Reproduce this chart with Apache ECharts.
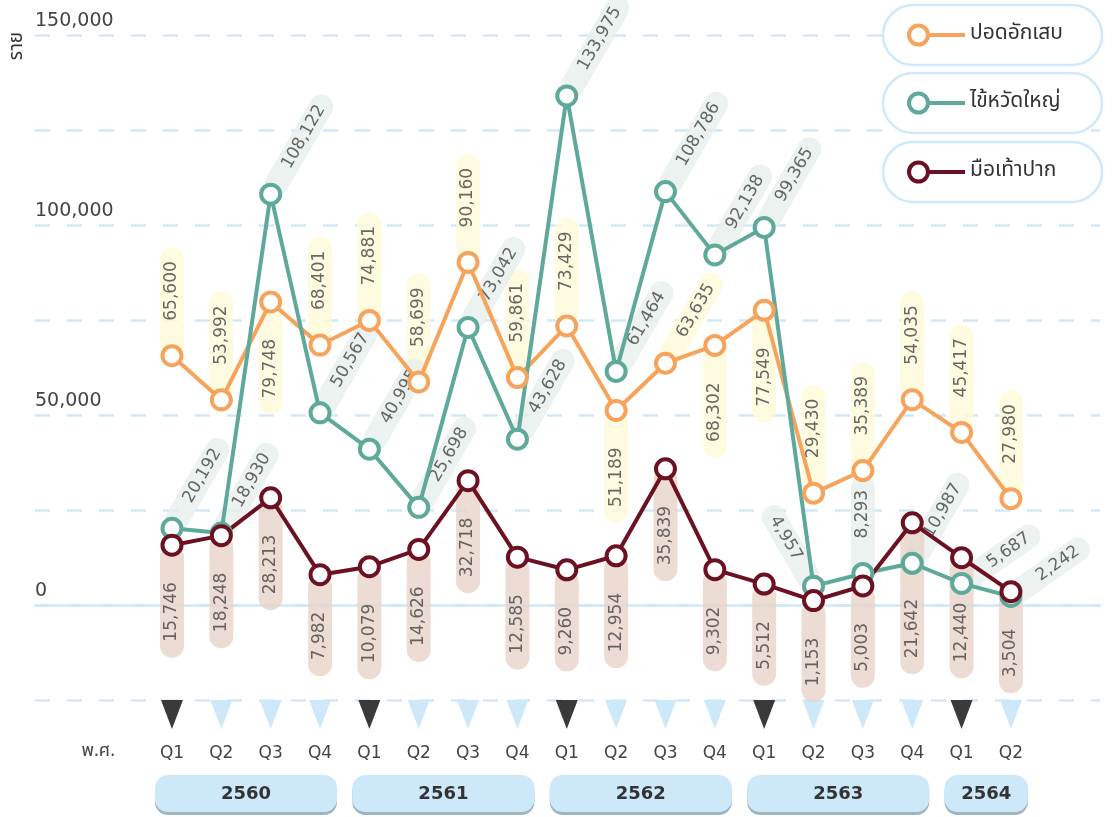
<!DOCTYPE html>
<html>
<head>
<meta charset="utf-8">
<title>ผู้ป่วยรายไตรมาส</title>
<style>
  html, body { margin: 0; padding: 0; background: #fff; }
  #main { width: 1113px; height: 817px; }
</style>
<script src="https://cdn.jsdelivr.net/npm/echarts@6/dist/echarts.min.js"></script>
</head>
<body>
<div id="main"></div>
<script>
// ---- ข้อมูล ----
const quarters = ['Q1', 'Q2', 'Q3', 'Q4', 'Q1', 'Q2', 'Q3', 'Q4', 'Q1', 'Q2', 'Q3', 'Q4', 'Q1', 'Q2', 'Q3', 'Q4', 'Q1', 'Q2'];
const yearLabels = ['2560', '2561', '2562', '2563', '2564'];
const yearQuarterCount = [4, 4, 4, 4, 2];

const pneumonia = [65600, 53992, 79748, 68401, 74881, 58699, 90160, 59861, 73429, 51189, 63635, 68302, 77549, 29430, 35389, 54035, 45417, 27980];
const influenza = [20192, 18930, 108122, 50567, 40995, 25698, 73042, 43628, 133975, 61464, 108786, 92138, 99365, 4957, 8293, 10987, 5687, 2242];
const hfmd = [15746, 18248, 28213, 7982, 10079, 14626, 32718, 12585, 9260, 12954, 35839, 9302, 5512, 1153, 5003, 21642, 12440, 3504];

const yMin = -25000, yMax = 150000, yStep = 25000;

// ---- สไตล์ ----
const FONT = "'DejaVu Sans', sans-serif";
const THAI_FONT = "'Noto Sans Thai', 'Noto Sans', 'DejaVu Sans', sans-serif";
const C_ORANGE = '#f6a35c', C_TEAL = '#5fa99a', C_RED = '#6b1121';
const GRID_LINE = '#cfe9f8';

// ตำแหน่งป้ายกำกับ (up / down / deep / diag / shallow / left)
const pneumoniaSide = i => ([2, 9, 11, 12].includes(i) ? 'down' : i === 10 ? 'diag' : 'up');
const influenzaSide = i => (i === 13 ? 'left' : i === 14 ? 'up' : i >= 16 ? 'shallow' : 'diag');
const hfmdSide = i => (i === 15 ? 'deep' : i === 16 ? 'lower' : 'down');

function pillLabel(bg, side) {
  const lbl = {
    show: true,
    position: 'inside',
    fontFamily: FONT,
    fontSize: 17,
    lineHeight: 18,
    color: '#424242',
    backgroundColor: bg,
    borderRadius: 12,
    verticalAlign: 'middle',
    formatter: p => Number(p.value).toLocaleString('en-US')
  };
  if (side === 'up') Object.assign(lbl, { rotate: 90, align: 'left', padding: [3, 14, 3, 35] });
  if (side === 'down') Object.assign(lbl, { rotate: 90, align: 'right', padding: [3, 37, 3, 16] });
  if (side === 'lower') Object.assign(lbl, { rotate: 90, align: 'right', padding: [3, 45, 3, 16] });
  if (side === 'deep') Object.assign(lbl, { rotate: 90, align: 'right', padding: [3, 76, 3, 16] });
  if (side === 'diag') Object.assign(lbl, { rotate: 60, align: 'left', padding: [3, 12, 3, 31] });
  if (side === 'shallow') Object.assign(lbl, { rotate: 35, align: 'left', padding: [3, 12, 3, 33] });
  if (side === 'left') Object.assign(lbl, { rotate: -60, align: 'right', padding: [3, 31, 3, 12] });
  return lbl;
}

function lineSeries(name, values, color) {
  return {
    name: name,
    type: 'line',
    xAxisIndex: 1,
    yAxisIndex: 1,
    z: 3,
    data: values,
    symbol: 'circle',
    symbolSize: 19,
    itemStyle: { color: '#fff', borderColor: color, borderWidth: 4 },
    lineStyle: { color: color, width: 4 },
    emphasis: { disabled: true },
    label: { show: false }
  };
}

function labelSeries(name, values, bg, sideOf) {
  return {
    name: name,
    type: 'scatter',
    xAxisIndex: 1,
    yAxisIndex: 1,
    z: 1,
    symbolSize: 1,
    itemStyle: { color: 'transparent' },
    emphasis: { disabled: true },
    data: values.map((v, i) => ({ value: v, label: pillLabel(bg, sideOf(i)) }))
  };
}

// ช่วงของแต่ละปี (index เริ่ม-จบ)
const yearRanges = [];
yearQuarterCount.reduce((start, n) => { yearRanges.push([start, start + n - 1]); return start + n; }, 0);

const ringIcon = 'path://M0,11.5A11.5,11.5,0,1,1,23,11.5A11.5,11.5,0,1,1,0,11.5ZM4,11.5A7.5,7.5,0,1,0,19,11.5A7.5,7.5,0,1,0,4,11.5ZM22,9.5L58,9.5L58,13.5L22,13.5Z';

const legendDefs = [
  { name: 'ปอดอักเสบ', color: C_ORANGE },
  { name: 'ไข้หวัดใหญ่', color: C_TEAL },
  { name: 'มือเท้าปาก', color: C_RED }
];

const chart = echarts.init(document.getElementById('main'));
chart.setOption({
  animation: false,
  backgroundColor: '#fff',
  textStyle: { fontFamily: FONT },
  grid: [
    { left: 35, right: 13, top: 35, bottom: 117 },
    { left: 147.3, right: 77.4, top: 35, bottom: 117 }
  ],
  xAxis: [
    {
      gridIndex: 0, type: 'value', min: 0, max: 1,
      axisLine: { show: true, onZero: true, lineStyle: { color: GRID_LINE, width: 2.5 } },
      axisTick: { show: false }, axisLabel: { show: false }, splitLine: { show: false }
    },
    {
      gridIndex: 1, type: 'category', data: quarters, boundaryGap: true,
      axisLine: { show: false, onZero: false }, axisTick: { show: false },
      axisLabel: { margin: 45, fontSize: 17, color: '#444', fontFamily: FONT }
    }
  ],
  yAxis: [
    {
      gridIndex: 0, type: 'value', min: yMin, max: yMax, interval: yStep,
      axisLine: { show: false }, axisTick: { show: false },
      splitLine: { show: true, lineStyle: { color: GRID_LINE, width: 2.5, type: [15, 17] } },
      axisLabel: {
        inside: true, margin: 0, align: 'left', verticalAlign: 'bottom', padding: [0, 0, 4, 0],
        fontSize: 19, color: '#444', fontFamily: FONT,
        formatter: v => (v >= 0 && v % 50000 === 0 ? v.toLocaleString('en-US') : '')
      }
    },
    { gridIndex: 1, type: 'value', min: yMin, max: yMax, interval: yStep, show: false }
  ],
  legend: legendDefs.map((d, k) => ({
    data: [{ name: d.name, icon: ringIcon, itemStyle: { color: d.color, borderWidth: 0 } }],
    left: 883, top: [5, 73, 142][k],
    itemWidth: 58, itemHeight: 23, itemGap: 0,
    backgroundColor: '#fff', borderColor: GRID_LINE, borderWidth: 2.5, borderRadius: 30,
    padding: [18, 27, 18, 24],
    selectedMode: false,
    textStyle: { fontSize: 21, lineHeight: 24, width: 105, color: '#333', fontFamily: THAI_FONT }
  })),
  graphic: [
    {
      type: 'text', x: 18, y: 46, rotation: Math.PI / 2,
      style: { text: 'ราย', font: '19px ' + THAI_FONT, fill: '#333', align: 'center', verticalAlign: 'middle' }
    },
    {
      type: 'text', x: 115, y: 752,
      style: { text: 'พ.ศ.', font: '18px ' + THAI_FONT, fill: '#444', align: 'right', verticalAlign: 'middle' }
    }
  ],
  series: [
    labelSeries('lbl-pneumonia', pneumonia, '#fefad8', pneumoniaSide),
    labelSeries('lbl-influenza', influenza, '#e6efec', influenzaSide),
    labelSeries('lbl-hfmd', hfmd, '#e9d3c9', hfmdSide),
    lineSeries('ปอดอักเสบ', pneumonia, C_ORANGE),
    lineSeries('ไข้หวัดใหญ่', influenza, C_TEAL),
    lineSeries('มือเท้าปาก', hfmd, C_RED),
    {
      // สามเหลี่ยมใต้แกน: ไตรมาสแรกของปีเป็นสีเข้ม
      type: 'custom', xAxisIndex: 1, yAxisIndex: 1, z: 1, silent: true,
      data: quarters.map((q, i) => [i, yMin]),
      renderItem: (params, api) => {
        const p = api.coord([api.value(0), api.value(1)]);
        const dark = quarters[params.dataIndex] === 'Q1';
        return {
          type: 'polygon',
          shape: { points: [[p[0] - 11, p[1]], [p[0] + 11, p[1]], [p[0], p[1] + 29]] },
          style: { fill: dark ? '#3a3a3a' : '#cde9f9' }
        };
      }
    },
    {
      // แถบปี พ.ศ.
      type: 'custom', xAxisIndex: 1, yAxisIndex: 1, z: 1, silent: true,
      data: yearRanges,
      renderItem: (params, api) => {
        const a = api.coord([api.value(0), yMin]);
        const b = api.coord([api.value(1), yMin]);
        const x0 = a[0] - 17, x1 = b[0] + 17, top = a[1] + 75;
        return {
          type: 'group',
          children: [
            { type: 'rect', shape: { x: x0, y: top + 3, width: x1 - x0, height: 37, r: 13 }, style: { fill: '#9fb6c1' } },
            { type: 'rect', shape: { x: x0, y: top, width: x1 - x0, height: 37, r: 13 }, style: { fill: '#cde9f9' } },
            {
              type: 'text',
              style: {
                text: yearLabels[params.dataIndex], x: (x0 + x1) / 2, y: top + 19,
                align: 'center', verticalAlign: 'middle', font: 'bold 18px ' + FONT, fill: '#333'
              }
            }
          ]
        };
      }
    }
  ]
});
window.addEventListener('resize', () => chart.resize());
</script>
</body>
</html>
